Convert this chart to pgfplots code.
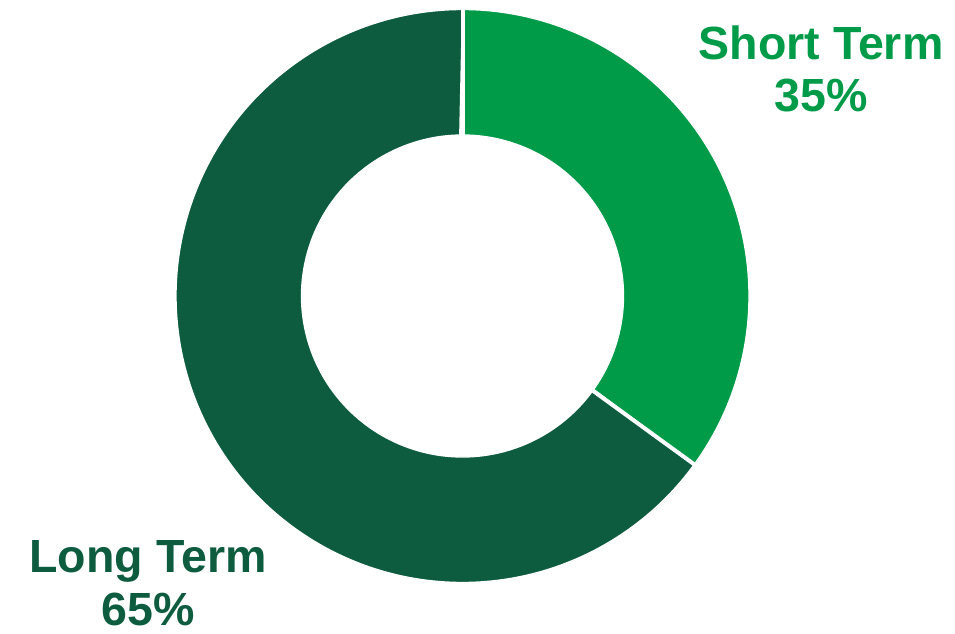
\documentclass[border=0pt]{standalone}
\usepackage{pgfplots}
\pgfplotsset{compat=1.18}
\usepackage{fontspec}
\setmainfont{Liberation Sans}
\definecolor{shortc}{RGB}{0,155,72}
\definecolor{longc}{RGB}{13,92,63}
% data (percent)
\def\vShort{35}
\def\vLong{65}
\pgfmathsetmacro{\aA}{90}
\pgfmathsetmacro{\aB}{90-3.6*\vShort}
\pgfmathsetmacro{\aC}{\aB-3.6*\vLong}
\def\cx{462.5}
\def\cy{337}
\def\Ro{286.5}
\def\Ri{161}
\pgfmathsetmacro{\xAo}{\cx+(\Ro+3)*cos(\aA)}\pgfmathsetmacro{\yAo}{\cy+(\Ro+3)*sin(\aA)}
\pgfmathsetmacro{\xAi}{\cx+(\Ri-3)*cos(\aA)}\pgfmathsetmacro{\yAi}{\cy+(\Ri-3)*sin(\aA)}
\pgfmathsetmacro{\xBo}{\cx+(\Ro+3)*cos(\aB)}\pgfmathsetmacro{\yBo}{\cy+(\Ro+3)*sin(\aB)}
\pgfmathsetmacro{\xBi}{\cx+(\Ri-3)*cos(\aB)}\pgfmathsetmacro{\yBi}{\cy+(\Ri-3)*sin(\aB)}
\begin{document}
\begin{tikzpicture}
\begin{axis}[hide axis, scale only axis, width=716.25pt, height=474.75pt,
  xmin=0, xmax=955, ymin=0, ymax=633, clip=false]
\addplot[fill=shortc, draw=white, line width=1pt, domain=0:2, samples=481, variable=\t]
 ({\cx + (\t<=1 ? \Ro*cos(\aA+(\aB-\aA)*\t) : \Ri*cos(\aB+(\aA-\aB)*(\t-1)))},
  {\cy + (\t<=1 ? \Ro*sin(\aA+(\aB-\aA)*\t) : \Ri*sin(\aB+(\aA-\aB)*(\t-1)))});
\addplot[fill=longc, draw=white, line width=1pt, domain=0:2, samples=481, variable=\t]
 ({\cx + (\t<=1 ? \Ro*cos(\aB+(\aC-\aB)*\t) : \Ri*cos(\aC+(\aB-\aC)*(\t-1)))},
  {\cy + (\t<=1 ? \Ro*sin(\aB+(\aC-\aB)*\t) : \Ri*sin(\aC+(\aB-\aC)*(\t-1)))});
\draw[white, line width=3pt] (axis cs:\xAi,\yAi) -- (axis cs:\xAo,\yAo);
\draw[white, line width=3pt] (axis cs:\xBi,\yBi) -- (axis cs:\xBo,\yBo);
\node[anchor=base, text=shortc, font=\bfseries\fontsize{34.9}{39}\selectfont] at (axis cs:821,573) {Short Term};
\node[anchor=base, text=shortc, font=\bfseries\fontsize{34.9}{39}\selectfont] at (axis cs:821,521) {\vShort\%};
\node[anchor=base, text=longc, font=\bfseries\fontsize{34.9}{39}\selectfont] at (axis cs:148,61) {Long Term};
\node[anchor=base, text=longc, font=\bfseries\fontsize{34.9}{39}\selectfont] at (axis cs:148,8) {\vLong\%};
\coordinate (bl) at (rel axis cs:0,0);
\coordinate (tr) at (rel axis cs:1,1);
\end{axis}
\pgfresetboundingbox
\path (bl) rectangle (tr);
\end{tikzpicture}
\end{document}
